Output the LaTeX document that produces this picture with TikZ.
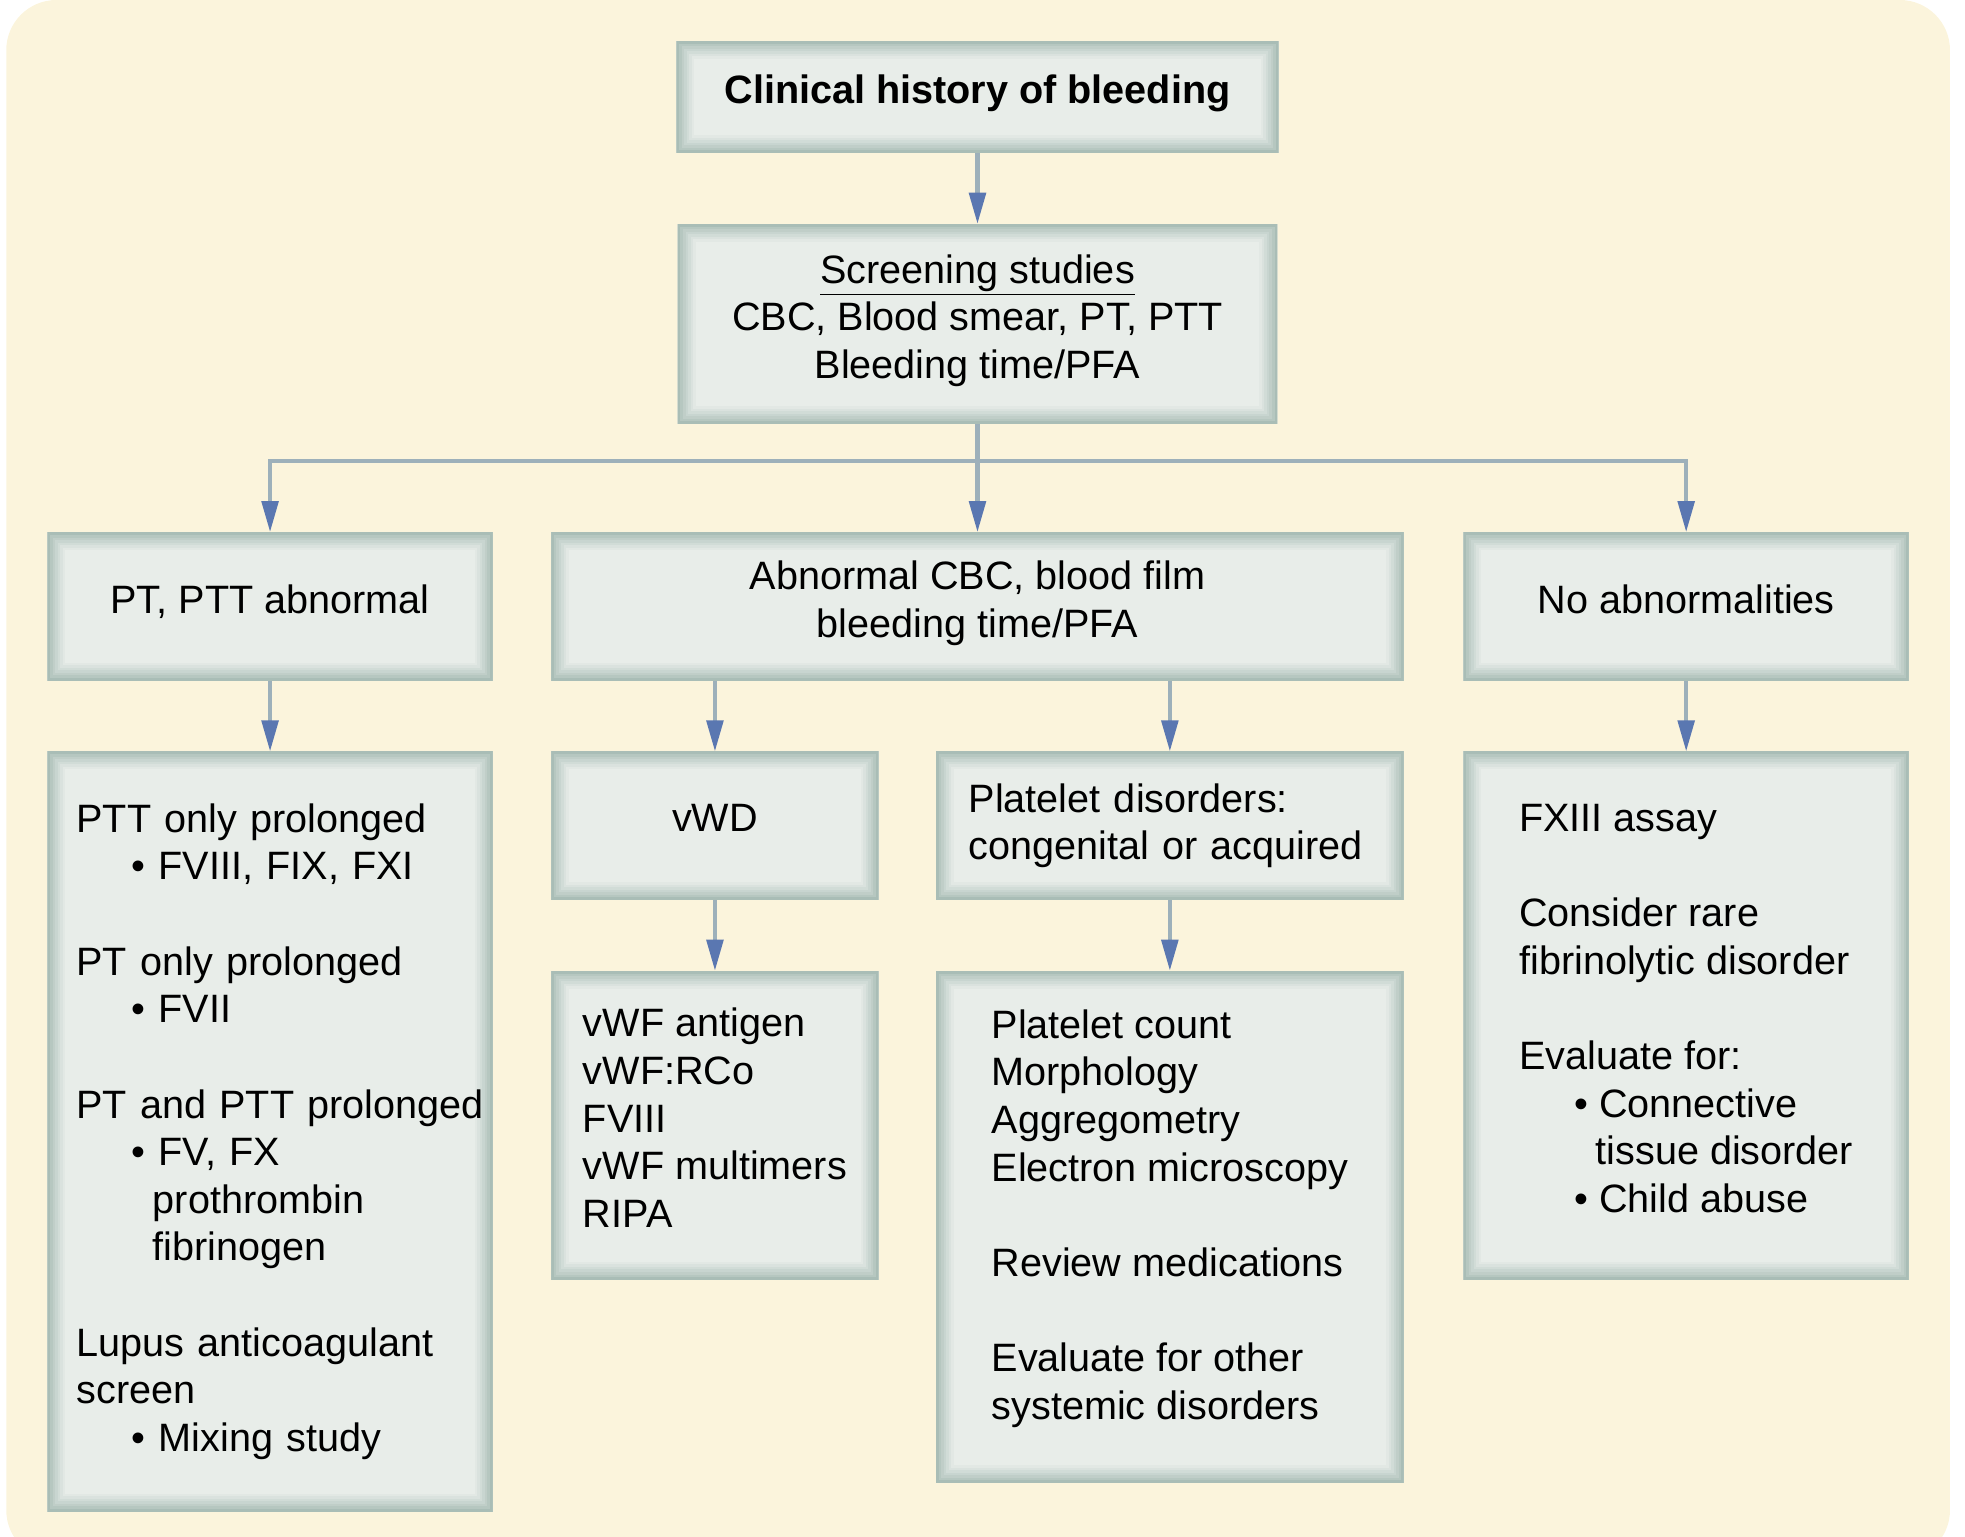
\documentclass[tikz,border=0pt]{standalone}
\usepackage{fontspec}
\setmainfont{Liberation Sans}
\usepackage{xcolor}
\usepackage{tikz}
\usetikzlibrary{arrows.meta}
\definecolor{bgc}{HTML}{FBF4DC}
\definecolor{boxc}{HTML}{E8EDE9}
\definecolor{bevc}{HTML}{A9BDB6}
\definecolor{linec}{HTML}{9DB0BA}
\definecolor{tipc}{HTML}{5A77B1}
\newcommand{\boxfont}{\fontsize{15.8pt}{19pt}\selectfont}
\newcommand{\bitem}{\hspace*{22pt}\textbullet\ }
\newcommand{\bcont}{\hspace*{30.5pt}}

\begin{document}
\begin{tikzpicture}[x=0.5pt, y=-0.5pt,
  box/.style={fill=boxc, inner sep=0pt, text depth=6pt, font=\boxfont,
    path picture={
      \foreach \w/\p in {14/10,12/22,10/36,8/50,6/64,4/80,2/100}
        \draw[bevc!\p!boxc, line width=\w pt] (path picture bounding box.south west) rectangle (path picture bounding box.north east);}},
  arr/.style={draw=linec, line width=1.6pt, -{Triangle[length=12.4pt, width=6.6pt, color=tipc]}}]
\useasboundingbox (0,0) rectangle (1568,1226);
\fill[bgc, rounded corners=20pt] (5,0) rectangle (1556,1245);
\node[box, minimum width=240pt, minimum height=44.5pt, font=\boxfont\bfseries] (hist) at (780,77.5) {Clinical history of bleeding};
\node[box, minimum width=239pt, minimum height=79.5pt, align=center] (scr) at (780,258.5) {\underline{Screening studies}\\CBC, Blood smear, PT, PTT\\Bleeding time/PFA};
\node[box, minimum width=177.5pt, minimum height=59pt] (pt) at (215.5,484) {PT, PTT abnormal};
\node[box, minimum width=340pt, minimum height=59pt, align=center] (abn) at (780,484) {Abnormal CBC, blood film\\bleeding time/PFA};
\node[box, minimum width=177.5pt, minimum height=59pt] (noab) at (1345.5,484) {No abnormalities};
\node[box, minimum width=177.5pt, minimum height=303pt, text depth=, text width=154.5pt, inner xsep=11.5pt, align=left] (ptl) at (215.5,903) {PTT only prolonged\\\bitem FVIII, FIX, FXI\\[19pt]PT only prolonged\\\bitem FVII\\[19pt]\mbox{PT and PTT prolonged}\\\bitem FV, FX\\\bcont prothrombin\\\bcont fibrinogen\\[19pt]Lupus anticoagulant\\screen\\\bitem Mixing study};
\node[box, minimum width=130.5pt, minimum height=59pt] (vwd) at (570.5,659) {vWD};
\node[box, minimum width=186.5pt, minimum height=59pt, text depth=, text width=160.5pt, inner xsep=13pt, align=left] (plt) at (933.5,659) {Platelet disorders:\\congenital or acquired};
\node[box, minimum width=177.5pt, minimum height=210.5pt, align=left] (fx) at (1345.5,810.5) {FXIII assay\\[19pt]Consider rare\\fibrinolytic disorder\\[19pt]Evaluate for:\\\bitem Connective\\\bcont tissue disorder\\\bitem Child abuse};
\node[box, minimum width=130.5pt, minimum height=123pt, align=left] (vwf) at (570.5,898) {vWF antigen\\vWF:RCo\\FVIII\\vWF multimers\\RIPA};
\node[box, minimum width=186.5pt, minimum height=204pt, text depth=10pt, align=left] (pll) at (933.5,979) {Platelet count\\Morphology\\Aggregometry\\Electron microscopy\\[19pt]Review medications\\[19pt]Evaluate for other\\systemic disorders};
\coordinate (split) at (780,368);
\draw[arr] (hist) -- (scr);
\draw[arr] (scr.south) -- (split) -| (pt.north);
\draw[arr] (split) -- (abn.north);
\draw[arr] (split) -| (noab.north);
\draw[arr] (pt) -- (ptl);
\draw[arr] (abn.south -| vwd.north) -- (vwd);
\draw[arr] (abn.south -| plt.north) -- (plt);
\draw[arr] (noab) -- (fx);
\draw[arr] (vwd) -- (vwf);
\draw[arr] (plt) -- (pll);
\end{tikzpicture}
\end{document}
